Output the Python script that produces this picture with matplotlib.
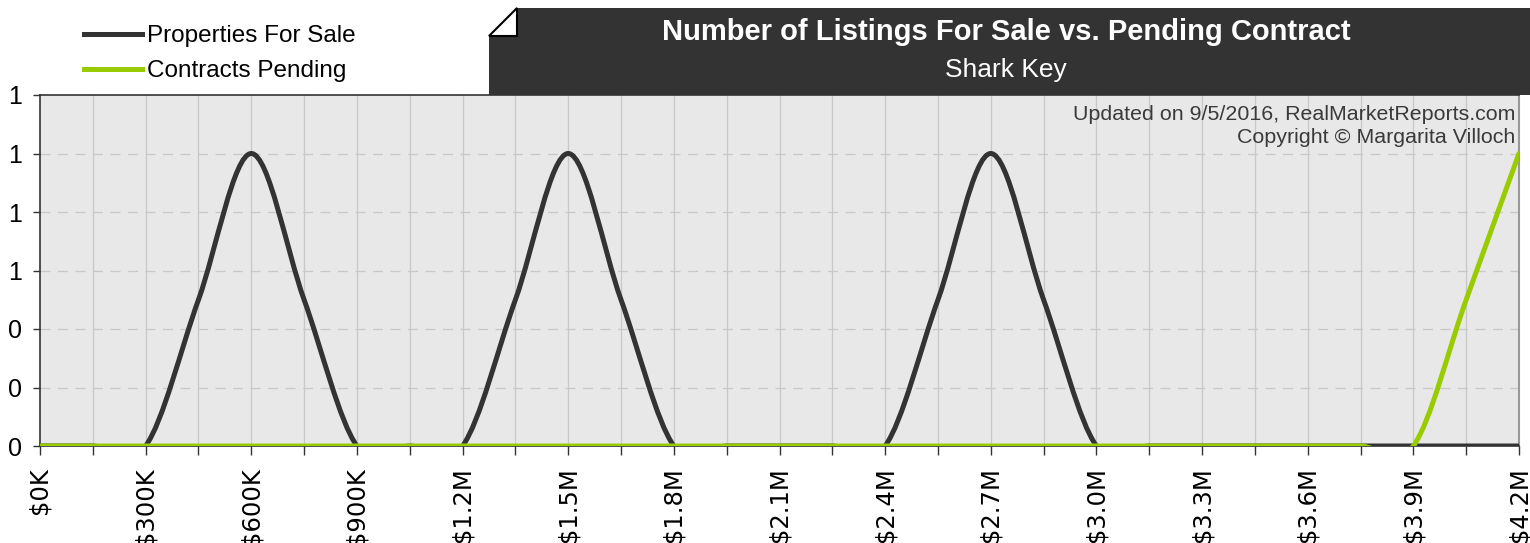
import numpy as np
import matplotlib
matplotlib.use("Agg")
import matplotlib.pyplot as plt
from matplotlib.path import Path
from matplotlib.patches import PathPatch, Polygon
from matplotlib.lines import Line2D
from matplotlib.ticker import FixedLocator, FuncFormatter

# price buckets in $K
price_k = [0, 150, 300, 450, 600, 750, 900, 1050, 1200, 1350, 1500, 1650, 1800, 1950,
           2100, 2250, 2400, 2550, 2700, 2850, 3000, 3150, 3300, 3450, 3600, 3750,
           3900, 4050, 4200]
for_sale = [0, 0, 0, 0.5, 1, 0.5, 0, 0, 0, 0.5, 1, 0.5, 0, 0,
            0, 0, 0, 0.5, 1, 0.5, 0, 0, 0, 0, 0, 0,
            0, 0, 0]
pending = [0, 0, 0, 0, 0, 0, 0, 0, 0, 0, 0, 0, 0, 0,
           0, 0, 0, 0, 0, 0, 0, 0, 0, 0, 0, 0,
           0, 0.5, 1]
label_ticks = [0, 300, 600, 900, 1200, 1500, 1800, 2100, 2400, 2700, 3000, 3300, 3600, 3900, 4200]
y_ticks = [0, 0.2, 0.4, 0.6, 0.8, 1.0, 1.2]

title = "Number of Listings For Sale vs. Pending Contract"
subtitle = "Shark Key"
credit = "Updated on 9/5/2016, RealMarketReports.com\nCopyright \u00a9 Margarita Villoch"

DARK = "#333333"
GREEN = "#99cc00"
W, H = 1530, 543

plt.rcParams["font.family"] = ["Liberation Sans", "DejaVu Sans"]


def px(x, y):
    # pixel position -> figure fraction
    return (x / W, 1 - y / H)


def smooth_path(x, y):
    # catmull-rom spline turned into cubic bezier segments
    pts = np.column_stack([x, y]).astype(float)
    pad = np.vstack([pts[0], pts, pts[-1]])
    verts = [pts[0]]
    codes = [Path.MOVETO]
    for i in range(len(pts) - 1):
        p0, p1, p2, p3 = pad[i], pad[i + 1], pad[i + 2], pad[i + 3]
        verts += [p1 + (p2 - p0) / 6, p2 - (p3 - p1) / 6, p2]
        codes += [Path.CURVE4] * 3
    return Path(verts, codes)


def money(v, pos=None):
    if v < 1000:
        return f"${v:.0f}K"
    return f"${v / 1000:.1f}M"


fig = plt.figure(figsize=(W / 100, H / 100), dpi=100)
ax = fig.add_axes([40 / W, 1 - 446 / H, (1519 - 40) / W, (446 - 95) / H])
ax.set_facecolor("#e8e8e8")

ax.set_xlim(0, 4200)
ax.set_ylim(0, 1.2)

ax.xaxis.set_major_locator(FixedLocator(price_k))
ax.set_xticklabels([money(v) if v in label_ticks else "" for v in price_k],
                   rotation=90, fontsize=17.5, family="DejaVu Sans", va="top")
ax.yaxis.set_major_locator(FixedLocator(y_ticks))
ax.yaxis.set_major_formatter(FuncFormatter(lambda v, p: f"{v:.0f}"))
ax.tick_params(axis="y", labelsize=18, length=5, width=1, color=DARK, pad=8)
ax.tick_params(axis="x", length=6.5, width=1, color=DARK, pad=9)

for v in price_k[1:-1]:
    ax.axvline(v, color="#c8c8c8", lw=0.9, zorder=0.5)
for v in y_ticks[1:-1]:
    ax.axhline(v, color="#c8c8c8", lw=0.9, ls=(0, (8, 6)), zorder=0.5)

for s in ["left", "bottom", "top"]:
    ax.spines[s].set_color(DARK)
    ax.spines[s].set_linewidth(1.2)
ax.spines["right"].set_color("#999999")
ax.spines["right"].set_linewidth(1.5)

ax.add_patch(PathPatch(smooth_path(price_k, for_sale), fill=False, edgecolor=DARK,
                       lw=3.6, zorder=3, capstyle="round"))
ax.add_patch(PathPatch(smooth_path(price_k, pending), fill=False, edgecolor=GREEN,
                       lw=3.6, zorder=4, capstyle="round"))

ax.text(0.9975, 0.972, credit, transform=ax.transAxes, ha="right", va="top",
        fontsize=15.4, color="#3a3a3a", linespacing=1.25, zorder=5)

# title banner with folded corner
fig.patches.append(Polygon([px(489, 95), px(489, 36), px(517, 8), px(W, 8), px(W, 95)],
                           closed=True, transform=fig.transFigure, facecolor=DARK,
                           edgecolor="none"))
fig.patches.append(Polygon([px(489, 36), px(517, 36), px(517, 8)], closed=True,
                           transform=fig.transFigure, facecolor="white",
                           edgecolor="black", lw=1.5))
fig.text(*px(1006, 32), title, color="white", fontsize=21, fontweight="bold",
         ha="center", va="center")
fig.text(*px(1006, 70), subtitle, color="white", fontsize=19, ha="center", va="center")

handles = [Line2D([], [], color=DARK, lw=3.6), Line2D([], [], color=GREEN, lw=3.6)]
fig.legend(handles, ["Properties For Sale", "Contracts Pending"], loc="upper left",
           bbox_to_anchor=px(84, 25), frameon=False, fontsize=17.5, handlelength=2.4,
           handletextpad=0.2, labelspacing=0.55, borderpad=0, borderaxespad=0)

fig.savefig("out.png", dpi=100)
